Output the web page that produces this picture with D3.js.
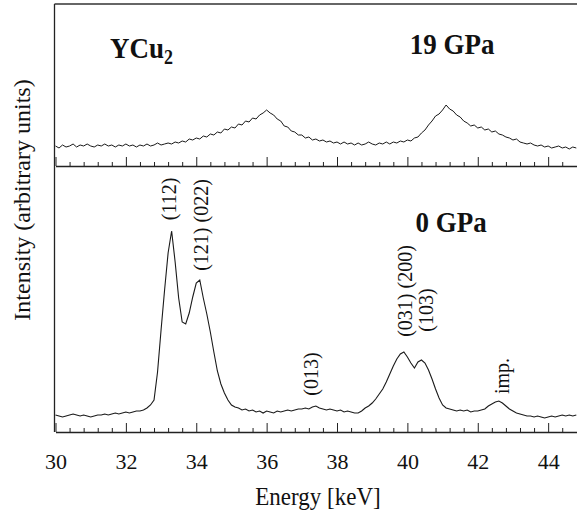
<!DOCTYPE html>
<html><head><meta charset="utf-8">
<script src="https://cdn.jsdelivr.net/npm/d3@7/dist/d3.min.js"></script>
<style>
body{margin:0;background:#fff}
svg{display:block}
text{font-family:"Liberation Serif","Times New Roman",serif;fill:#111}
</style>
</head><body>
<svg id="c" width="577" height="514"></svg>
<script>
// Energy grid (keV), 0.1 keV sampling
const energy = d3.range(0, 149).map(i => +(30 + i * 0.1).toFixed(1));

// 19 GPa spectrum (arbitrary units)
const intensity19GPa = [
20,18,21,19,20,22,19,21,20,22, 20,19,21,20,22,20,21,19,21,20,
22,20,21,19,21,20,22,20,21,23, 21,22,23,22,24,23,25,24,27,26,
28,27,30,29,32,31,34,33,37,36, 39,38,42,41,45,44,48,47,51,53,
56,53,51,47,45,40,39,35,34,31, 31,28,29,26,27,25,26,24,25,23,
24,22,24,22,23,21,23,21,22,24, 22,21,23,22,24,22,24,23,25,24,
26,25,28,29,33,36,41,45,50,52, 56,61,57,55,51,49,45,43,40,41,
38,39,36,37,34,35,32,31,29,28, 26,27,24,23,22,23,21,20,21,19,
20,18,19,20,18,19,17,19,18
];

// 0 GPa spectrum (arbitrary units)
const intensity0GPa = [
17,16,15,16,17,18,17,16,17,16, 15,16,17,17,18,17,18,19,18,19,
20,19,20,21,21,22,24,27,32,60, 102,142,179,201,170,134,110,108,119,135,
149,152,134,118,100,80,61,48,39,32, 27,25,24,22,23,21,22,20,21,19,
21,20,19,21,20,21,22,21,22,23, 23,24,23,25,26,24,23,22,23,22,
21,22,20,21,20,19,19,21,24,26, 29,33,38,43,50,58,66,73,78,80,
75,69,64,70,72,69,62,53,43,34, 27,24,23,22,21,22,21,22,20,21,
21,22,23,26,28,30,31,29,26,23, 21,19,18,17,16,16,15,16,15,14,
15,16,15,16,17,16,17,16,17
];

const majorTicks = [30, 32, 34, 36, 38, 40, 42, 44];
const minorTicks = [30.4,30.8,31.2,31.6,32.4,32.8,33.2,33.6,34.4,34.8,35.2,35.6,
  36.4,36.8,37.2,37.6,38.4,38.8,39.2,39.6,40.4,40.8,41.2,41.6,42.4,42.8,43.2,43.6,44.4];

// peak annotations (energy keV, intensity a.u.) in lower panel
const peakLabels = [
  {text: "(112)", e: 33.22, v: 233},
  {text: "(121) (022)", e: 34.13, v: 207},
  {text: "(013)", e: 37.26, v: 58},
  {text: "(031) (200)", e: 39.93, v: 141},
  {text: "(103)", e: 40.53, v: 122},
  {text: "imp.", e: 42.68, v: 56}
];

const svg = d3.select("#c");
const W = 577, H = 514;
const left = 54.5;
const stretch = 1.12; // scanned text is slightly taller than wide

const x = d3.scaleLinear().domain([30, 44.82]).range([55.5, 577]);
const yUp = d3.scaleLinear().domain([0, 162]).range([166, 4]);
const yLow = d3.scaleLinear().domain([0, 266]).range([432, 166]);

const upData = energy.map((e, i) => [e, intensity19GPa[i]]);
const lowData = energy.map((e, i) => [e, intensity0GPa[i]]);

// curves
svg.append("path").datum(upData)
  .attr("fill", "none").attr("stroke", "#1a1a1a").attr("stroke-width", 1)
  .attr("d", d3.line().x(d => x(d[0])).y(d => yUp(d[1])));
svg.append("path").datum(lowData)
  .attr("fill", "none").attr("stroke", "#1a1a1a").attr("stroke-width", 1.1)
  .attr("d", d3.line().x(d => x(d[0])).y(d => yLow(d[1])));

// frame: left axis & top line
svg.append("line").attr("x1", left).attr("x2", left).attr("y1", yUp(162)).attr("y2", yLow(0))
  .attr("stroke", "#222").attr("stroke-width", 1.3);
svg.append("line").attr("x1", left).attr("x2", W).attr("y1", yUp(162)).attr("y2", yUp(162))
  .attr("stroke", "#333").attr("stroke-width", 1.3);

function addAxis(yPos, labels) {
  const gMinor = svg.append("g").attr("transform", `translate(0,${yPos})`)
    .call(d3.axisBottom(x).tickValues(minorTicks).tickSize(-4).tickSizeOuter(0).tickFormat(""));
  gMinor.select(".domain").remove();
  const gMajor = svg.append("g").attr("transform", `translate(0,${yPos})`)
    .call(d3.axisBottom(x).tickValues(majorTicks).tickSize(-9).tickSizeOuter(0).tickPadding(21)
      .tickFormat(labels ? d3.format("d") : ""));
  gMajor.select(".domain").attr("stroke", "#222").attr("stroke-width", 1.4);
  svg.selectAll(".tick line").attr("stroke", "#222").attr("stroke-width", 1);
  gMajor.selectAll("text").attr("font-size", 22).attr("fill", "#111")
    .style("font-family", '"Liberation Serif","Times New Roman",serif');
}
addAxis(yUp(0), false);
addAxis(yLow(0), true);

// axis titles
svg.append("text").attr("transform", `translate(318,505) scale(1,1.05)`).attr("text-anchor", "middle")
  .attr("font-size", 23).text("Energy [keV]");
svg.append("text").attr("transform", "translate(30,200) rotate(-90)")
  .attr("text-anchor", "middle").attr("font-size", 24).text("Intensity (arbitrary units)");

// panel titles
const ycu = svg.append("text")
  .attr("transform", `translate(${x(31.55)},${yUp(108)}) scale(1,${stretch})`)
  .attr("font-size", 27).attr("font-weight", "bold");
ycu.append("tspan").text("YCu");
ycu.append("tspan").attr("font-size", 18).attr("dy", 5).text("2");
svg.append("text")
  .attr("transform", `translate(${x(41.27)},${yUp(112)}) scale(1,${stretch})`)
  .attr("text-anchor", "middle")
  .attr("font-size", 27).attr("font-weight", "bold").text("19 GPa");
svg.append("text")
  .attr("transform", `translate(${x(41.24)},${yLow(200)}) scale(1,${stretch})`)
  .attr("text-anchor", "middle")
  .attr("font-size", 27).attr("font-weight", "bold").text("0 GPa");

// peak labels (rotated)
svg.selectAll("text.peak").data(peakLabels).enter().append("text")
  .attr("class", "peak")
  .attr("transform", d => `translate(${x(d.e)},${yLow(d.v)}) rotate(-90)`)
  .attr("text-anchor", "middle").attr("dy", "0.35em")
  .attr("font-size", 20).text(d => d.text);
</script>
</body></html>
